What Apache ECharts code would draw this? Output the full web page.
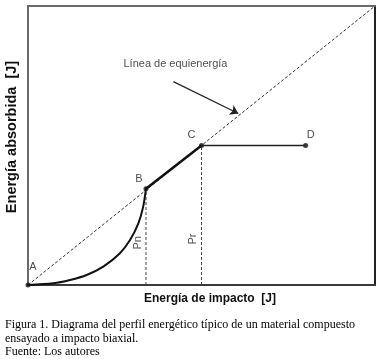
<!DOCTYPE html>
<html>
<head>
<meta charset="utf-8">
<script src="https://cdn.jsdelivr.net/npm/echarts@6/dist/echarts.min.js"></script>
<style>
  html, body { margin: 0; padding: 0; background: #fff; }
  #chart { width: 389px; height: 359px; }
</style>
</head>
<body>
<div id="chart"></div>
<script>
// perfil energetico (valores normalizados 0..1)
var curveX = [0, 0.073, 0.121, 0.169, 0.217, 0.265, 0.294, 0.318, 0.332, 0.34];
var curveY = [0, 0.006, 0.018, 0.036, 0.066, 0.114, 0.161, 0.221, 0.281, 0.345];

var pointNames = ['A', 'B', 'C', 'D'];
var pointX = [0, 0.34, 0.5, 0.8];
var pointY = [0, 0.345, 0.5, 0.5];

var equiX = [0, 1];
var equiY = [0, 1];

var noteNames = ['Pn', 'Pr'];
var noteX = [0.317, 0.476];
var noteY = [0.151, 0.165];

var equiLabel = 'Línea de equienergía';
var equiLabelPos = [0.425, 0.792];
var arrowFrom = [0.419, 0.729];
var arrowTo = [0.606, 0.615];

var caption = [
    'Figura 1. Diagrama del perfil energético típico de un material compuesto',
    'ensayado a impacto biaxial.',
    'Fuente: Los autores'
];

function zip(xs, ys) {
    return xs.map(function (x, i) { return [x, ys[i]]; });
}

// offsets de etiquetas de los puntos
var labelOffsets = { A: [5, -18], B: [-7, -10], C: [-10, -11], D: [5, -11] };

var font = 'Liberation Sans, Arial, sans-serif';
var chart = echarts.init(document.getElementById('chart'));

var hidden = { show: false };
function frameAxis(pos, color) {
    return {
        type: 'value', min: 0, max: 1, position: pos,
        axisLine: { onZero: false, lineStyle: { color: color, width: 2 } },
        axisTick: hidden, axisLabel: hidden, splitLine: hidden
    };
}

var xBottom = frameAxis('bottom', '#3a3a3a');
xBottom.name = 'Energía de impacto  [J]';
xBottom.nameLocation = 'middle';
xBottom.nameGap = 8;
xBottom.nameTextStyle = { fontFamily: font, fontWeight: 'bold', fontSize: 12, color: '#111', padding: [0, 0, 0, 17] };

var yLeft = frameAxis('left', '#6a6a6a');
yLeft.name = 'Energía absorbida  [J]';
yLeft.nameLocation = 'middle';
yLeft.nameGap = 9;
yLeft.nameTextStyle = { fontFamily: font, fontWeight: 'bold', fontSize: 14.5, color: '#111', padding: [0, 0, 0, 17] };

var option = {
    animation: false,
    grid: { left: 28, top: 6, width: 347, height: 279, outerBoundsMode: 'none' },
    xAxis: [xBottom, frameAxis('top', '#6a6a6a')],
    yAxis: [yLeft, frameAxis('right', '#222')],
    series: [
        {
            name: 'equienergia', type: 'line', data: zip(equiX, equiY),
            symbol: 'none', lineStyle: { color: '#333', width: 1, type: [3, 2] },
            markLine: {
                silent: true, symbol: ['none', 'arrow'], symbolSize: 8,
                lineStyle: { color: '#222', width: 1.2, type: 'solid' },
                label: hidden,
                data: [[{ coord: arrowFrom }, { coord: arrowTo }]]
            }
        },
        {
            name: 'Pn', type: 'line', data: [[pointX[1], 0], [pointX[1], pointY[1]]],
            symbol: 'none', lineStyle: { color: '#444', width: 1, type: [3, 2] }
        },
        {
            name: 'Pr', type: 'line', data: [[pointX[2], 0], [pointX[2], pointY[2]]],
            symbol: 'none', lineStyle: { color: '#444', width: 1, type: [3, 2] }
        },
        {
            name: 'AB', type: 'line', data: zip(curveX, curveY), smooth: 0.3,
            symbol: 'none', lineStyle: { color: '#111', width: 2 }
        },
        {
            name: 'BC', type: 'line', data: [[pointX[1], pointY[1]], [pointX[2], pointY[2]]],
            symbol: 'none', lineStyle: { color: '#111', width: 2.5 }
        },
        {
            name: 'CD', type: 'line', data: [[pointX[2], pointY[2]], [pointX[3], pointY[3]]],
            symbol: 'none', lineStyle: { color: '#222', width: 1.5 }
        },
        {
            name: 'puntos', type: 'scatter', symbolSize: 5,
            itemStyle: { color: '#111' },
            data: pointNames.map(function (n, i) {
                return {
                    name: n, value: [pointX[i], pointY[i]],
                    label: {
                        show: true, position: 'inside', offset: labelOffsets[n],
                        formatter: n, fontFamily: font, fontSize: 11, color: '#222'
                    }
                };
            })
        },
        {
            name: 'notas', type: 'scatter', symbolSize: 0,
            data: noteNames.map(function (n, i) {
                return {
                    name: n, value: [noteX[i], noteY[i]],
                    label: {
                        show: true, position: 'inside', rotate: 90,
                        formatter: n, fontFamily: font, fontSize: 11, color: '#222'
                    }
                };
            }).concat([{
                name: equiLabel, value: equiLabelPos,
                label: {
                    show: true, position: 'inside', formatter: equiLabel,
                    fontFamily: font, fontSize: 11, color: '#222'
                }
            }])
        }
    ],
    graphic: caption.map(function (t, i) {
        return {
            type: 'text', left: 5, top: 319 + i * 13.5,
            style: { text: t, font: '12px "Liberation Serif", "Times New Roman", serif', fill: '#000' }
        };
    })
};
chart.setOption(option);
</script>
</body>
</html>
